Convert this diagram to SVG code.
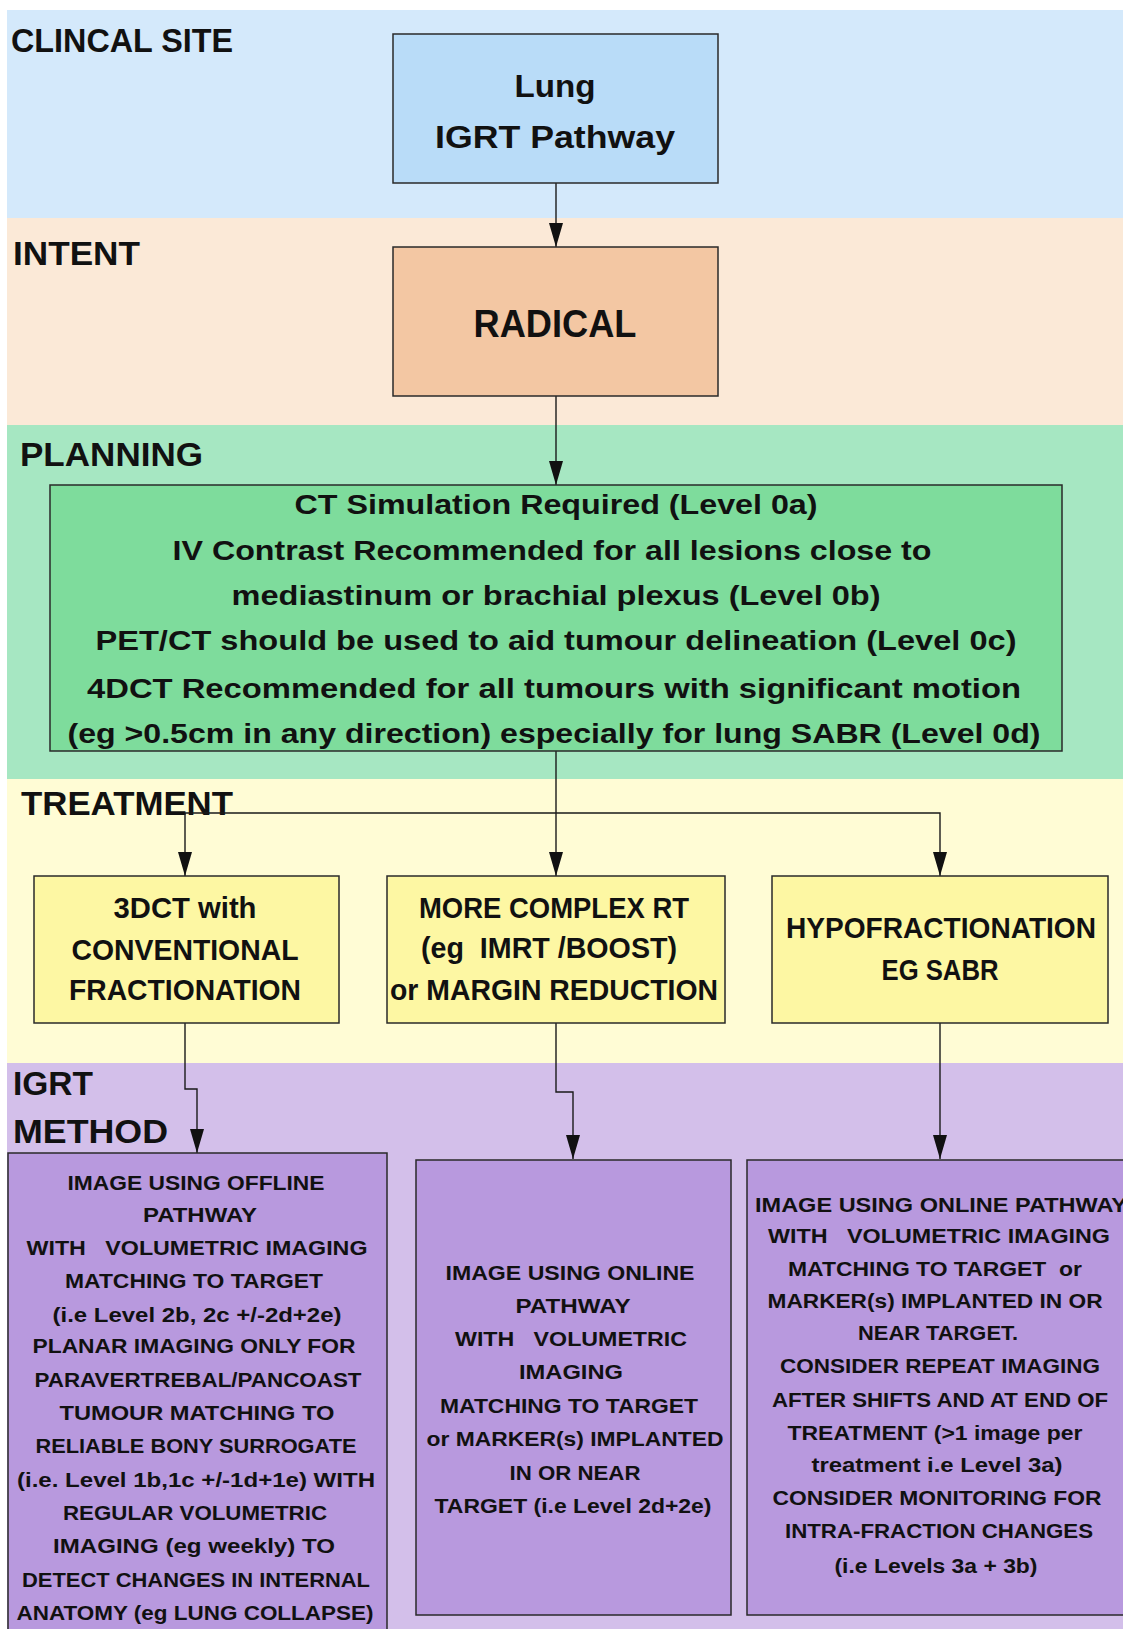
<svg xmlns="http://www.w3.org/2000/svg" width="1123" height="1629" viewBox="0 0 1123 1629">
<defs>
<style>
text{font-family:"Liberation Sans",Arial,sans-serif;font-weight:bold;fill:#111;white-space:pre;}
.lab{font-size:33px;}
.pl{font-size:27px;text-anchor:middle;}
.tr{font-size:30px;text-anchor:middle;}
.ig{font-size:20px;text-anchor:middle;}
.box{stroke:#2a2a2a;stroke-width:1.5;}
.con{fill:none;stroke:#1a1a1a;stroke-width:1.4;}
</style>
<marker id="arr" viewBox="0 0 14 24" refX="7" refY="24" markerWidth="14" markerHeight="24" markerUnits="userSpaceOnUse" orient="0">
<path d="M0,0 L14,0 L7,24 z" fill="#111"/>
</marker>
</defs>
<rect x="0" y="0" width="1123" height="1629" fill="#ffffff"/>
<g id="bands">
<rect x="7" y="10" width="1116" height="208" fill="#d4e9fb"/>
<rect x="7" y="218" width="1116" height="207" fill="#fbe9d7"/>
<rect x="7" y="425" width="1116" height="354" fill="#a6e7c2"/>
<rect x="7" y="779" width="1116" height="284" fill="#fffcd5"/>
<rect x="7" y="1063" width="1116" height="566" fill="#d3bfea"/>
<text class="lab" x="11" y="52" textLength="222" lengthAdjust="spacingAndGlyphs">CLINCAL SITE</text>
<text class="lab" x="13" y="265" textLength="127" lengthAdjust="spacingAndGlyphs">INTENT</text>
<text class="lab" x="20" y="466" textLength="183" lengthAdjust="spacingAndGlyphs">PLANNING</text>
<text class="lab" x="21" y="815" textLength="212" lengthAdjust="spacingAndGlyphs">TREATMENT</text>
<text class="lab" x="13" y="1095" textLength="80" lengthAdjust="spacingAndGlyphs">IGRT</text>
<text class="lab" x="13" y="1143" textLength="155" lengthAdjust="spacingAndGlyphs">METHOD</text>
</g>
<g id="connectors">
<line class="con" x1="556" y1="183" x2="556" y2="247" marker-end="url(#arr)"/>
<line class="con" x1="556" y1="396" x2="556" y2="485" marker-end="url(#arr)"/>
<line class="con" x1="556" y1="751" x2="556" y2="876" marker-end="url(#arr)"/>
<polyline class="con" points="556,813 185,813 185,876" marker-end="url(#arr)"/>
<polyline class="con" points="556,813 940,813 940,876" marker-end="url(#arr)"/>
<polyline class="con" points="185,1023 185,1089 197,1089 197,1153" marker-end="url(#arr)"/>
<polyline class="con" points="556,1023 556,1092 573,1092 573,1159" marker-end="url(#arr)"/>
<line class="con" x1="940" y1="1023" x2="940" y2="1159" marker-end="url(#arr)"/>
</g>
<g id="lung">
<rect class="box" x="393" y="34" width="325" height="149" fill="#b9dcf8"/>
<text x="555" y="97" font-size="32" text-anchor="middle" textLength="81" lengthAdjust="spacingAndGlyphs">Lung</text>
<text x="555" y="148" font-size="32" text-anchor="middle" textLength="240" lengthAdjust="spacingAndGlyphs">IGRT Pathway</text>
</g>
<g id="radical">
<rect class="box" x="393" y="247" width="325" height="149" fill="#f3c7a3"/>
<text x="555" y="337" font-size="39" text-anchor="middle" textLength="163" lengthAdjust="spacingAndGlyphs">RADICAL</text>
</g>
<g id="planning">
<rect class="box" x="50" y="485" width="1012" height="266" fill="#7edc9c"/>
<text class="pl" x="556" y="514" textLength="523" lengthAdjust="spacingAndGlyphs">CT Simulation Required (Level 0a)</text>
<text class="pl" x="552" y="560" textLength="759" lengthAdjust="spacingAndGlyphs">IV Contrast Recommended for all lesions close to</text>
<text class="pl" x="556" y="605" textLength="649" lengthAdjust="spacingAndGlyphs">mediastinum or brachial plexus (Level 0b)</text>
<text class="pl" x="556" y="650" textLength="921" lengthAdjust="spacingAndGlyphs">PET/CT should be used to aid tumour delineation (Level 0c)</text>
<text class="pl" x="554" y="698" textLength="934" lengthAdjust="spacingAndGlyphs">4DCT Recommended for all tumours with significant motion</text>
<text class="pl" x="554" y="743" textLength="973" lengthAdjust="spacingAndGlyphs">(eg &gt;0.5cm in any direction) especially for lung SABR (Level 0d)</text>
</g>
<g id="treat1">
<rect class="box" x="34" y="876" width="305" height="147" fill="#fdf7a3"/>
<text class="tr" x="185" y="918" textLength="143" lengthAdjust="spacingAndGlyphs">3DCT with</text>
<text class="tr" x="185" y="960" textLength="227" lengthAdjust="spacingAndGlyphs">CONVENTIONAL</text>
<text class="tr" x="185" y="1000" textLength="232" lengthAdjust="spacingAndGlyphs">FRACTIONATION</text>
</g>
<g id="treat2">
<rect class="box" x="387" y="876" width="338" height="147" fill="#fdf7a3"/>
<text class="tr" x="554" y="918" textLength="270" lengthAdjust="spacingAndGlyphs">MORE COMPLEX RT</text>
<text class="tr" x="549" y="958" textLength="256" lengthAdjust="spacingAndGlyphs">(eg  IMRT /BOOST)</text>
<text class="tr" x="554" y="1000" textLength="328" lengthAdjust="spacingAndGlyphs">or MARGIN REDUCTION</text>
</g>
<g id="treat3">
<rect class="box" x="772" y="876" width="336" height="147" fill="#fdf7a3"/>
<text class="tr" x="941" y="938" textLength="310" lengthAdjust="spacingAndGlyphs">HYPOFRACTIONATION</text>
<text class="tr" x="940" y="980" textLength="117" lengthAdjust="spacingAndGlyphs">EG SABR</text>
</g>
<g id="igrt1">
<rect class="box" x="8" y="1153" width="379" height="490" fill="#b899de"/>
<text class="ig" x="196" y="1190" textLength="257" lengthAdjust="spacingAndGlyphs">IMAGE USING OFFLINE</text>
<text class="ig" x="200" y="1222" textLength="114" lengthAdjust="spacingAndGlyphs">PATHWAY</text>
<text class="ig" x="197" y="1255" textLength="341" lengthAdjust="spacingAndGlyphs">WITH   VOLUMETRIC IMAGING</text>
<text class="ig" x="194" y="1288" textLength="258" lengthAdjust="spacingAndGlyphs">MATCHING TO TARGET</text>
<text class="ig" x="197" y="1322" textLength="289" lengthAdjust="spacingAndGlyphs">(i.e Level 2b, 2c +/-2d+2e)</text>
<text class="ig" x="194" y="1353" textLength="323" lengthAdjust="spacingAndGlyphs">PLANAR IMAGING ONLY FOR</text>
<text class="ig" x="198" y="1387" textLength="327" lengthAdjust="spacingAndGlyphs">PARAVERTREBAL/PANCOAST</text>
<text class="ig" x="197" y="1420" textLength="275" lengthAdjust="spacingAndGlyphs">TUMOUR MATCHING TO</text>
<text class="ig" x="196" y="1453" textLength="321" lengthAdjust="spacingAndGlyphs">RELIABLE BONY SURROGATE</text>
<text class="ig" x="196" y="1487" textLength="358" lengthAdjust="spacingAndGlyphs">(i.e. Level 1b,1c +/-1d+1e) WITH</text>
<text class="ig" x="195" y="1520" textLength="264" lengthAdjust="spacingAndGlyphs">REGULAR VOLUMETRIC</text>
<text class="ig" x="194" y="1553" textLength="282" lengthAdjust="spacingAndGlyphs">IMAGING (eg weekly) TO</text>
<text class="ig" x="196" y="1587" textLength="348" lengthAdjust="spacingAndGlyphs">DETECT CHANGES IN INTERNAL</text>
<text class="ig" x="195" y="1620" textLength="357" lengthAdjust="spacingAndGlyphs">ANATOMY (eg LUNG COLLAPSE)</text>
</g>
<g id="igrt2">
<rect class="box" x="416" y="1160" width="315" height="455" fill="#b899de"/>
<text class="ig" x="570" y="1280" textLength="249" lengthAdjust="spacingAndGlyphs">IMAGE USING ONLINE</text>
<text class="ig" x="573" y="1313" textLength="115" lengthAdjust="spacingAndGlyphs">PATHWAY</text>
<text class="ig" x="571" y="1346" textLength="232" lengthAdjust="spacingAndGlyphs">WITH   VOLUMETRIC</text>
<text class="ig" x="571" y="1379" textLength="104" lengthAdjust="spacingAndGlyphs">IMAGING</text>
<text class="ig" x="569" y="1413" textLength="258" lengthAdjust="spacingAndGlyphs">MATCHING TO TARGET</text>
<text class="ig" x="575" y="1446" textLength="297" lengthAdjust="spacingAndGlyphs">or MARKER(s) IMPLANTED</text>
<text class="ig" x="575" y="1480" textLength="131" lengthAdjust="spacingAndGlyphs">IN OR NEAR</text>
<text class="ig" x="573" y="1513" textLength="277" lengthAdjust="spacingAndGlyphs">TARGET (i.e Level 2d+2e)</text>
</g>
<g id="igrt3">
<rect class="box" x="747" y="1160" width="390" height="455" fill="#b899de"/>
<text class="ig" x="755" y="1212" style="text-anchor:start" textLength="372" lengthAdjust="spacingAndGlyphs">IMAGE USING ONLINE PATHWAY</text>
<text class="ig" x="939" y="1243" textLength="342" lengthAdjust="spacingAndGlyphs">WITH   VOLUMETRIC IMAGING</text>
<text class="ig" x="935" y="1276" textLength="294" lengthAdjust="spacingAndGlyphs">MATCHING TO TARGET  or</text>
<text class="ig" x="935" y="1308" textLength="335" lengthAdjust="spacingAndGlyphs">MARKER(s) IMPLANTED IN OR</text>
<text class="ig" x="938" y="1340" textLength="160" lengthAdjust="spacingAndGlyphs">NEAR TARGET.</text>
<text class="ig" x="940" y="1373" textLength="320" lengthAdjust="spacingAndGlyphs">CONSIDER REPEAT IMAGING</text>
<text class="ig" x="940" y="1407" textLength="336" lengthAdjust="spacingAndGlyphs">AFTER SHIFTS AND AT END OF</text>
<text class="ig" x="935" y="1440" textLength="295" lengthAdjust="spacingAndGlyphs">TREATMENT (&gt;1 image per</text>
<text class="ig" x="937" y="1472" textLength="251" lengthAdjust="spacingAndGlyphs">treatment i.e Level 3a)</text>
<text class="ig" x="937" y="1505" textLength="329" lengthAdjust="spacingAndGlyphs">CONSIDER MONITORING FOR</text>
<text class="ig" x="939" y="1538" textLength="308" lengthAdjust="spacingAndGlyphs">INTRA-FRACTION CHANGES</text>
<text class="ig" x="936" y="1573" textLength="203" lengthAdjust="spacingAndGlyphs">(i.e Levels 3a + 3b)</text>
</g>
</svg>
